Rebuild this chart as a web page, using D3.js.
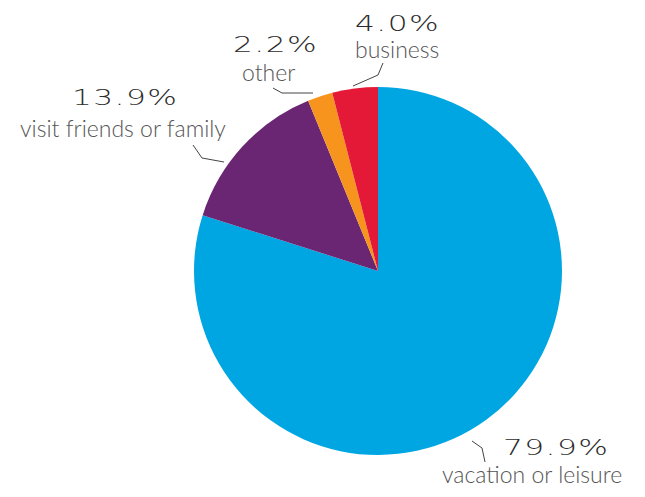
<!DOCTYPE html>
<html>
<head>
<meta charset="utf-8">
<script src="https://cdn.jsdelivr.net/npm/d3@7"></script>
<style>
  body { margin: 0; background: #fff; }
  .pct { font-family: "DejaVu Sans", sans-serif; font-weight: 200; fill: #2b2b2b; letter-spacing: 1px; }
  .lbl { font-family: Lato, sans-serif; font-weight: 300; fill: #555; }
</style>
</head>
<body>
<script>
const width = 645;
const height = 497;

// data
const categories = ["vacation or leisure", "visit friends or family", "other", "business"];
const values = [79.9, 13.9, 2.2, 4.0];
const colors = ["#00a6e2", "#6a2573", "#f7941d", "#e31937"];

// label layout (percent text left x, baseline y, label baseline y, leader points)
const labelLayout = [
  { x: 503, y: 455, ly: 483, lx: 442, leader: [[472, 441], [482, 448], [485, 462]] },
  { x: 72, y: 105, ly: 137, lx: 20, leader: [[224, 162], [202, 158], [193, 145]] },
  { x: 233, y: 52, ly: 81, lx: 242, leader: [[313, 93], [282, 93], [273, 88]] },
  { x: 355, y: 31, ly: 58, lx: 355, leader: [[353, 86], [378, 75], [383, 63]] }
];

const cx = 378;
const cy = 271;
const radius = 184;

const svg = d3.select("body").append("svg")
  .attr("width", width)
  .attr("height", height);

const pie = d3.pie().sort(null).value((d) => d);
const arc = d3.arc().innerRadius(0).outerRadius(radius);

const g = svg.append("g")
  .attr("transform", `translate(${cx}, ${cy})`);

g.selectAll("path")
  .data(pie(values))
  .enter()
  .append("path")
  .attr("d", arc)
  .style("fill", (d, i) => colors[i]);

const line = d3.line();

labelLayout.forEach((l, i) => {
  svg.append("path")
    .attr("d", line(l.leader))
    .style("fill", "none")
    .style("stroke", "#444")
    .style("stroke-width", 1);

  svg.append("text")
    .attr("class", "pct")
    .attr("x", 0)
    .attr("y", 0)
    .attr("transform", `translate(${l.x}, ${l.y}) scale(1.42, 1)`)
    .style("font-size", "22px")
    .text(values[i].toFixed(1) + "%");

  svg.append("text")
    .attr("class", "lbl")
    .attr("x", l.lx)
    .attr("y", l.ly)
    .style("font-size", "23px")
    .text(categories[i]);
});
</script>
</body>
</html>
